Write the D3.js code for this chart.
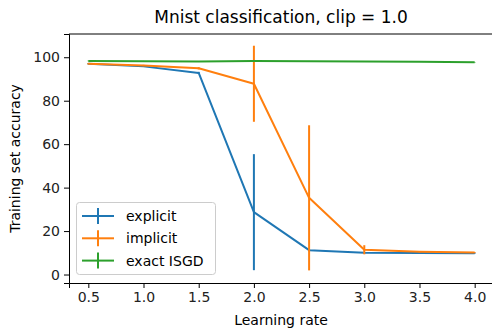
<!DOCTYPE html>
<html>
<head>
<meta charset="utf-8">
<script src="https://cdn.jsdelivr.net/npm/d3@7"></script>
<style>
  body { margin: 0; background: #fff; }
  svg { font-family: "DejaVu Sans", sans-serif; }
</style>
</head>
<body>
<div id="graph"></div>
<script>
// learning rates on the x axis
var rates = [0.5, 1.0, 1.5, 2.0, 2.5, 3.0, 3.5, 4.0];

var explicitMean = [97.0, 95.8, 92.8, 28.7, 11.2, 10.0, 9.9, 9.8];
var explicitErr  = [0.3, 0.3, 0.5, 26.7, 0.5, 0.3, 0.2, 0.2];

var implicitMean = [97.0, 96.2, 94.9, 87.8, 35.3, 11.4, 10.5, 10.1];
var implicitErr  = [0.3, 0.3, 0.5, 17.5, 33.4, 2.1, 0.3, 0.2];

var exactMean = [98.3, 98.2, 98.1, 98.3, 98.2, 98.0, 97.9, 97.7];
var exactErr  = [0.1, 0.1, 0.1, 0.1, 0.1, 0.1, 0.1, 0.1];

var seriesNames = ['explicit', 'implicit', 'exact ISGD'];
var colors = ['#1f77b4', '#ff7f0e', '#2ca02c'];
var xTicks = [0.5, 1.0, 1.5, 2.0, 2.5, 3.0, 3.5, 4.0];
var yTicks = [0, 20, 40, 60, 80, 100];

var series = [
  {name: seriesNames[0], mean: explicitMean, err: explicitErr, color: colors[0]},
  {name: seriesNames[1], mean: implicitMean, err: implicitErr, color: colors[1]},
  {name: seriesNames[2], mean: exactMean, err: exactErr, color: colors[2]}
];

var width = 492, height = 330;
var mLeft = 69, mTop = 34, mRight = 494, mBottom = 283;

var x = d3.scaleLinear().domain([0.325, 4.175]).range([mLeft, mRight]);
var y = d3.scaleLinear().domain([-3.9, 110.7]).range([mBottom, mTop]);

var svg = d3.select('#graph')
            .append('svg')
            .attr('width', width)
            .attr('height', height);

// title
svg.append('text')
   .attr('x', 281).attr('y', 23)
   .attr('text-anchor', 'middle')
   .attr('font-size', 17)
   .attr('fill', '#000')
   .text('Mnist classification, clip = 1.0');

var plot = svg.append('g');

var line = d3.line()
             .x(function(d, i) { return x(rates[i]); })
             .y(function(d) { return y(d); });

series.forEach(function(s) {
  var g = plot.append('g');
  // error bars
  g.selectAll('line.err')
   .data(s.mean)
   .enter()
   .append('line')
   .attr('class', 'err')
   .attr('x1', function(d, i) { return x(rates[i]); })
   .attr('x2', function(d, i) { return x(rates[i]); })
   .attr('y1', function(d, i) { return y(d - s.err[i]); })
   .attr('y2', function(d, i) { return y(d + s.err[i]); })
   .attr('stroke', s.color)
   .attr('stroke-width', 2);

  g.append('path')
   .datum(s.mean)
   .attr('d', line)
   .attr('fill', 'none')
   .attr('stroke', s.color)
   .attr('stroke-width', 2)
   .attr('stroke-linejoin', 'round');
});

// axes
var xAxis = svg.append('g')
   .attr('transform', 'translate(0,' + mBottom + ')')
   .call(d3.axisBottom(x).tickValues(xTicks).tickFormat(d3.format('.1f')).tickSizeOuter(0).tickSize(5).tickPadding(4));

var yAxis = svg.append('g')
   .attr('transform', 'translate(' + mLeft + ',0)')
   .call(d3.axisLeft(y).tickValues(yTicks).tickSizeOuter(0).tickSize(5).tickPadding(4));

[xAxis, yAxis].forEach(function(a) {
  a.select('.domain').attr('stroke', '#000').attr('stroke-width', 1);
  a.selectAll('.tick line').attr('stroke', '#000').attr('stroke-width', 1);
  a.selectAll('.tick text').attr('font-size', 14).attr('fill', '#222')
   .attr('font-family', '"DejaVu Sans", sans-serif');
});

// top spine
svg.append('line')
   .attr('x1', mLeft).attr('x2', width)
   .attr('y1', mTop).attr('y2', mTop)
   .attr('stroke', '#000').attr('stroke-width', 1);

// axis labels
svg.append('text')
   .attr('x', 281).attr('y', 325)
   .attr('text-anchor', 'middle')
   .attr('font-size', 14)
   .text('Learning rate');

svg.append('text')
   .attr('transform', 'translate(20,' + ((mTop + mBottom) / 2) + ') rotate(-90)')
   .attr('text-anchor', 'middle')
   .attr('font-size', 14)
   .text('Training set accuracy');

// legend
var legend = svg.append('g');
legend.append('rect')
      .attr('x', 76.5).attr('y', 202.5)
      .attr('width', 139).attr('height', 72)
      .attr('rx', 3)
      .attr('fill', '#fff').attr('fill-opacity', 0.8)
      .attr('stroke', '#ccc');

series.forEach(function(s, i) {
  var ly = 216 + i * 22.3;
  legend.append('line')
        .attr('x1', 82).attr('x2', 114)
        .attr('y1', ly).attr('y2', ly)
        .attr('stroke', s.color).attr('stroke-width', 2);
  legend.append('line')
        .attr('x1', 98).attr('x2', 98)
        .attr('y1', ly - 8).attr('y2', ly + 8)
        .attr('stroke', s.color).attr('stroke-width', 2);
  legend.append('text')
        .attr('x', 126).attr('y', ly + 5)
        .attr('font-size', 14)
        .text(s.name);
});
</script>
</body>
</html>
